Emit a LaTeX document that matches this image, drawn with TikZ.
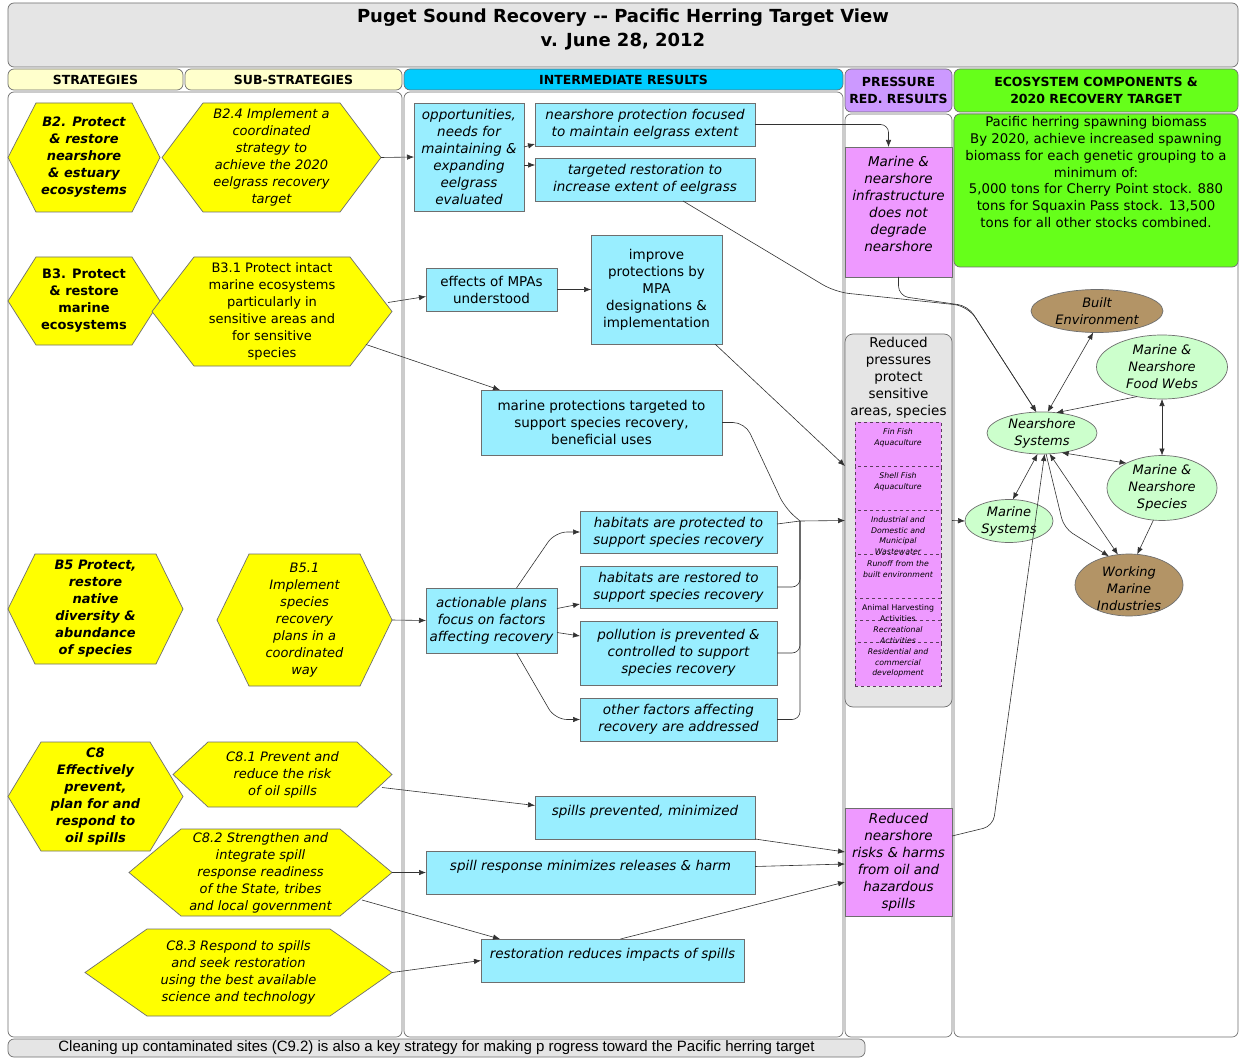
\documentclass[tikz,border=0pt]{standalone}
\usepackage{fontspec}
\setmainfont{DejaVu Sans}
\newfontfamily\notefont{Liberation Sans}
\usetikzlibrary{arrows.meta,calc,shapes.geometric}

\definecolor{hexy}{RGB}{255,255,0}
\definecolor{boxc}{RGB}{153,238,255}
\definecolor{pinkc}{RGB}{238,153,255}
\definecolor{grayc}{RGB}{229,229,229}
\definecolor{hdry}{RGB}{255,255,204}
\definecolor{hdrc}{RGB}{0,204,255}
\definecolor{hdrp}{RGB}{204,153,255}
\definecolor{greenc}{RGB}{102,255,26}
\definecolor{brownc}{RGB}{179,148,102}
\definecolor{lgreen}{RGB}{204,255,204}
\definecolor{edgec}{RGB}{110,110,110}
\definecolor{framec}{RGB}{110,110,110}
\definecolor{linec}{RGB}{50,50,50}
\definecolor{dashc}{RGB}{90,60,90}

\newcommand\mybox[7]{\node[#6, minimum width={#3-#1}, minimum height={#4-#2}] (#5) at ({(#1+#3)/2},{(#2+#4)/2}) {#7};}
\newcommand\myhex[8]{\path[hexfill] (#2,{(#3+#5)/2}) -- ({#2+#6},#3) -- ({#4-#6},#3) -- (#4,{(#3+#5)/2}) -- ({#4-#6},#5) -- ({#2+#6},#5) -- cycle;
\node[align=center, #7, minimum width={#4-#2}, minimum height={#5-#3}] (#1) at ({(#2+#4)/2},{(#3+#5)/2}) {#8};}

\tikzset{
 every node/.style={inner sep=0pt, outer sep=0pt},
 colframe/.style={draw=framec, line width=0.7pt, rounded corners=6pt},
 hdr/.style={colframe, align=center, font=\fontsize{12.5}{17}\selectfont\bfseries},
 hexfill/.style={fill=hexy, draw=edgec, line width=0.7pt},
 hexbi/.style={font=\fontsize{13}{17}\selectfont\bfseries\itshape},
 hexb/.style={font=\fontsize{13}{17}\selectfont\bfseries},
 hexi/.style={font=\fontsize{13}{17}\selectfont\itshape},
 hexr/.style={font=\fontsize{13}{17}\selectfont},
 ibox/.style={draw=edgec, fill=boxc, line width=0.7pt, align=center, font=\fontsize{13.5}{17}\selectfont},
 ital/.style={font=\fontsize{13.5}{17}\selectfont\itshape},
 topish/.style={text height=10pt, text depth=14pt},
 pbox/.style={draw=edgec, fill=pinkc, line width=0.7pt, align=center, font=\fontsize{13.5}{17}\selectfont\itshape},
 txt/.style={align=center, font=\fontsize{13.5}{17}\selectfont},
 dbox/.style={draw=dashc, dashed, fill=pinkc, line width=0.6pt},
 tinyt/.style={align=center, font=\fontsize{7.8}{10.5}\selectfont\itshape},
 tinyr/.style={align=center, font=\fontsize{7.8}{10.5}\selectfont},
 ell/.style={ellipse, draw=edgec, line width=0.7pt},
 etxt/.style={align=center, font=\fontsize{13}{17}\selectfont\itshape},
 conn/.style={draw=linec, line width=0.6pt},
 arr/.style={conn, -{Latex[length=7pt,width=5.5pt]}},
 darr/.style={conn, {Latex[length=7pt,width=5.5pt]}-{Latex[length=7pt,width=5.5pt]}},
}

\begin{document}
\begin{tikzpicture}[x=1pt,y=-1pt]
\useasboundingbox (0,0) rectangle (1239,1059);

% title
\mybox{8}{3}{1238}{67}{title}{colframe, fill=grayc}{}
\node[align=center, font=\fontsize{18}{24}\selectfont\bfseries] (titlet) at (623,29.5) {Puget Sound Recovery -{}- Pacific Herring Target View\\v. June 28, 2012};

% headers
\mybox{8}{69}{183}{90}{hs}{hdr, fill=hdry}{STRATEGIES}
\mybox{185}{69}{402}{90}{hss}{hdr, fill=hdry}{SUB-STRATEGIES}
\mybox{404}{69}{843}{90}{hir}{hdr, fill=hdrc}{INTERMEDIATE RESULTS}
\mybox{845}{69}{952}{112}{hpr}{hdr, fill=hdrp}{PRESSURE\\RED. RESULTS}
\mybox{954}{69}{1238}{112}{hec}{hdr, fill=greenc}{ECOSYSTEM COMPONENTS \&\\2020 RECOVERY TARGET}

% column frames
\mybox{8}{92}{402}{1037}{fs}{colframe, fill=white}{}
\mybox{404}{92}{843}{1037}{fi}{colframe, fill=white}{}
\mybox{845}{114}{952}{1037}{fp}{colframe, fill=white}{}
\mybox{954}{114}{1238}{1037}{fe}{colframe, fill=white}{}

% bottom note
\mybox{8}{1039}{865}{1057}{note}{colframe, fill=grayc, font=\notefont\fontsize{15}{16}\selectfont}{Cleaning up contaminated sites (C9.2) is also a key strategy for making p rogress toward the Pacific herring target}

% target
\mybox{954}{114}{1238}{267}{target}{colframe, fill=greenc}{}
\node[anchor=north, txt, font=\fontsize{13.3}{16.8}\selectfont] (targett) at (1096,116.5) {Pacific herring spawning biomass\\By 2020, achieve increased spawning\\biomass for each genetic grouping to a\\minimum of:\\5,000 tons for Cherry Point stock. 880\\tons for Squaxin Pass stock. 13,500\\tons for all other stocks combined.};

% hexagons
\myhex{b2}{8}{103}{160}{212}{28}{hexbi}{B2. Protect\\\& restore\\nearshore\\\& estuary\\ecosystems}
\myhex{b24}{162}{103}{381}{212}{41}{hexi}{B2.4 Implement a\\coordinated\\strategy to\\achieve the 2020\\eelgrass recovery\\target}
\myhex{b3}{8}{257}{160}{345}{28}{hexb}{B3. Protect\\\& restore\\marine\\ecosystems}
\myhex{b31}{152}{257}{392}{366}{42}{hexr}{B3.1 Protect intact\\marine ecosystems\\particularly in\\sensitive areas and\\for sensitive\\species}
\myhex{b5}{8}{554}{183}{664}{27}{hexbi}{B5 Protect,\\restore\\native\\diversity \&\\abundance\\of species}
\myhex{b51}{217}{554}{392}{686}{32}{hexi}{B5.1\\Implement\\species\\recovery\\plans in a\\coordinated\\way}
\myhex{c8}{8}{742}{183}{851}{33}{hexbi}{C8\\Effectively\\prevent,\\plan for and\\respond to\\oil spills}
\myhex{c81}{173}{742}{392}{807}{35}{hexi}{C8.1 Prevent and\\reduce the risk\\of oil spills}
\myhex{c82}{129}{829}{392}{916}{52}{hexi}{C8.2 Strengthen and\\integrate spill\\response readiness\\of the State, tribes\\and local government}
\myhex{c83}{85}{929}{392}{1016}{62}{hexi}{C8.3 Respond to spills\\and seek restoration\\using the best available\\science and technology}

% intermediate results
\mybox{414}{103}{524}{211}{opp}{ibox, ital}{opportunities,\\needs for\\maintaining \&\\expanding\\eelgrass\\evaluated}
\mybox{535}{103}{755}{146}{nps}{ibox, ital}{nearshore protection focused\\to maintain eelgrass extent}
\mybox{535}{158}{755}{201}{tr}{ibox, ital}{targeted restoration to\\increase extent of eelgrass}
\mybox{426}{268}{557}{311}{mpa}{ibox}{effects of MPAs\\understood}
\mybox{591}{235}{722}{344}{imp}{ibox}{improve\\protections by\\MPA\\designations \&\\implementation}
\mybox{481}{390}{722}{455}{mpt}{ibox}{marine protections targeted to\\support species recovery,\\beneficial uses}
\mybox{426}{588}{557}{653}{act}{ibox, ital}{actionable plans\\focus on factors\\affecting recovery}
\mybox{580}{511}{777}{553}{hp}{ibox, ital}{habitats are protected to\\support species recovery}
\mybox{580}{566}{777}{608}{hr}{ibox, ital}{habitats are restored to\\support species recovery}
\mybox{580}{621}{777}{685}{pp}{ibox, ital}{pollution is prevented \&\\controlled to support\\species recovery}
\mybox{580}{698}{777}{741}{of}{ibox, ital}{other factors affecting\\recovery are addressed}
\mybox{535}{796}{755}{839}{spm}{ibox, ital, topish}{spills prevented, minimized}
\mybox{426}{851}{755}{894}{srm}{ibox, ital, topish}{spill response minimizes releases \& harm}
\mybox{481}{939}{744}{982}{rri}{ibox, ital, topish}{restoration reduces impacts of spills}

% pressure reduction results
\mybox{845}{147}{952}{277}{infra}{pbox}{}
\node[txt, font=\fontsize{13.5}{17}\selectfont\itshape] (infrat) at (898.5,204) {Marine \&\\nearshore\\infrastructure\\does not\\degrade\\nearshore};
\mybox{845}{334}{952}{707}{grayb}{colframe, fill=grayc, rounded corners=8pt}{}
\node[anchor=north, txt] (grayt) at (898.5,337) {Reduced\\pressures\\protect\\sensitive\\areas, species};
\mybox{855}{422}{941}{466}{d1}{dbox}{}
\mybox{855}{466}{941}{510}{d2}{dbox}{}
\mybox{855}{510}{941}{554}{d3}{dbox}{}
\mybox{855}{554}{941}{598}{d4}{dbox}{}
\mybox{855}{598}{941}{620}{d5}{dbox}{}
\mybox{855}{620}{941}{642}{d6}{dbox}{}
\mybox{855}{642}{941}{686}{d7}{dbox}{}
\node[anchor=north, tinyt, yshift=-7pt] (d1t) at (d1.north) {Fin Fish\\Aquaculture};
\node[anchor=north, tinyt, yshift=-7pt] (d2t) at (d2.north) {Shell Fish\\Aquaculture};
\node[anchor=north, tinyt, yshift=-7pt] (d3t) at (d3.north) {Industrial and\\Domestic and\\Municipal\\Wastewater};
\node[anchor=north, tinyt, yshift=-7pt] (d4t) at (d4.north) {Runoff from the\\built environment};
\node[anchor=north, tinyr, yshift=-7pt] (d5t) at (d5.north) {Animal Harvesting\\Activities};
\node[anchor=north, tinyt, yshift=-7pt] (d6t) at (d6.north) {Recreational\\Activities};
\node[anchor=north, tinyt, yshift=-7pt] (d7t) at (d7.north) {Residential and\\commercial\\development};
\mybox{845}{808}{952}{916}{spill}{pbox}{Reduced\\nearshore\\risks \& harms\\from oil and\\hazardous\\spills}

% ecosystem components
\node[ell, fill=brownc, minimum width=132, minimum height=43] (be) at (1097,311) {};
\node[etxt] (bet) at (be) {Built\\Environment};
\node[ell, fill=lgreen, minimum width=131, minimum height=64] (fw) at (1162,367) {};
\node[etxt] (fwt) at (fw) {Marine \&\\Nearshore\\Food Webs};
\node[ell, fill=lgreen, minimum width=110, minimum height=42] (ns) at (1042,433) {};
\node[etxt] (nst) at (ns) {Nearshore\\Systems};
\node[ell, fill=lgreen, minimum width=110, minimum height=65] (sp) at (1162,488) {};
\node[etxt] (spt) at (sp) {Marine \&\\Nearshore\\Species};
\node[ell, fill=lgreen, minimum width=88, minimum height=43] (ms) at (1009,521) {};
\node[etxt] (mst) at (ms) {Marine\\Systems};
\node[ell, fill=brownc, minimum width=108, minimum height=62] (wmi) at (1129,585) {};
\node[etxt] (wmit) at ([yshift=-4pt]wmi.center) {Working\\Marine\\Industries};

% connectors: strategies to intermediate results
\draw[arr] (b24.east) -- (opp.west);
\draw[arr] ([yshift=10pt]opp.east) -- ([yshift=2pt]nps.south west);
\draw[arr] ([yshift=-8pt]opp.east) -- ([yshift=-7pt]tr.north west);
\draw[arr, rounded corners=8pt] (nps.east) -| ([xshift=-10pt]infra.north);
\draw[arr, rounded corners=14pt] ([xshift=38pt]tr.south) -- (835,292) -- (968,306) -- (ns.105);
\draw[arr, rounded corners=10pt] (infra.south) -- (898.5,296) -- (968,306) -- (ns.105);
\draw[arr] ([xshift=-4pt,yshift=9pt]b31.east) -- ([yshift=-7pt]mpa.west);
\draw[arr] (mpa.east) -- (imp.west |- mpa.east);
\draw[arr] ([xshift=-26pt,yshift=-33pt]b31.east) -- ([xshift=19pt]mpt.north west);
\draw[arr] ([xshift=-7pt]imp.south east) -- ([yshift=54.5pt]grayb.west);
\coordinate (jn) at (800,521);
\draw[conn, rounded corners=12pt] (mpt.east) -- (745,422.5) -- (785,508) -- (jn);
\draw[conn] ([yshift=8pt]hp.east) -- (jn);
\draw[conn, rounded corners=8pt] (hr.east) -| (jn);
\draw[conn, rounded corners=8pt] (pp.east) -| (jn);
\draw[conn, rounded corners=8pt] (of.east) -| (jn);
\draw[arr] (jn) -- (grayb.west);
\draw[arr] (b51.east) -- (act.west);
\draw[arr, rounded corners=12pt] ([xshift=25pt]act.north) -- (555,532) -- (hp.west);
\draw[arr] ([yshift=12pt]act.east) -- ([yshift=-17pt]hr.west);
\draw[arr] ([yshift=-12pt]act.east) -- ([yshift=17pt]pp.west);
\draw[arr, rounded corners=12pt] ([xshift=25pt]act.south) -- (555,719.5) -- (of.west);
\draw[arr] ([xshift=-10pt,yshift=-13pt]c81.east) -- ([yshift=12pt]spm.west);
\draw[arr] (c82.east) -- (srm.west);
\draw[arr] ([xshift=-30pt,yshift=-27.5pt]c82.east) -- ([xshift=19pt]rri.north west);
\draw[arr] (c83.east) -- (rri.west);
\draw[arr] (spm.south east) -- ([yshift=10pt]spill.west);
\draw[arr] ([yshift=6pt]srm.east) -- ([yshift=-2pt]spill.west);
\draw[arr] ([xshift=8pt]rri.north) -- ([yshift=-20pt]spill.west);

% connectors: to and among ecosystem components
\draw[arr, rounded corners=10pt] ([yshift=26pt]spill.east) -- (993,826) -- (ns.277);
\draw[arr, rounded corners=10pt] (ns.281) -- (1064,528) -- (wmi.125);
\draw[darr] (ns.290) -- (wmi.110);
\draw[arr] (grayb.east) -- (ms.west);
\draw[darr] (be.260) -- (ns.75);
\draw[arr] (fw.230) -- (ns.55);
\draw[darr] (fw.south) -- (sp.north);
\draw[darr] (ns.315) -- (sp.145);
\draw[darr] (ns.258) -- (ms.80);
\draw[arr] (sp.255) -- (wmi.75);
\end{tikzpicture}
\end{document}
